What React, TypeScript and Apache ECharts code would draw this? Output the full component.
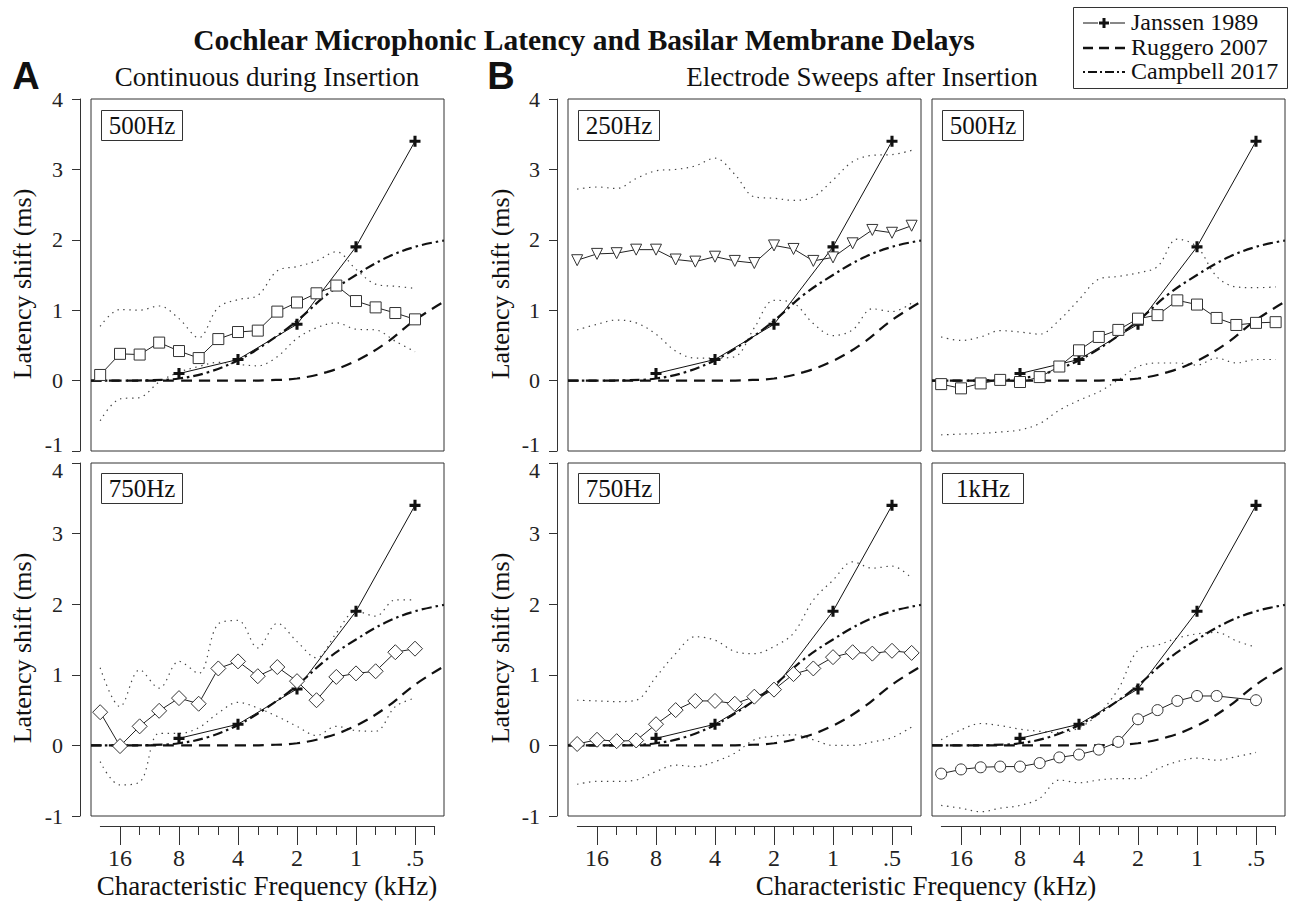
import React, { useEffect, useRef } from "react";
import * as echarts from "echarts";

// ---------- data (frequencies in kHz, latency shifts in ms) ----------
const FREQ_KHZ = [20.2, 16, 12.7, 10.1, 8, 6.35, 5.04, 4, 3.17, 2.52, 2, 1.59, 1.26, 1, 0.794, 0.63, 0.5, 0.397];
const X_MAJOR_KHZ = [16, 8, 4, 2, 1, 0.5];

const JANSSEN_KHZ = [8, 4, 2, 1, 0.5];
const JANSSEN_MS = [0.1, 0.3, 0.8, 1.9, 3.4];
const RUGGERO_KHZ = [22.5, 11.3, 8, 5.66, 4, 2.83, 2, 1.41, 1, 0.707, 0.5, 0.356];
const RUGGERO_MS = [0, 0, 0, 0, 0, 0.006, 0.03, 0.12, 0.28, 0.53, 0.86, 1.12];
const CAMPBELL_KHZ = [22.5, 16, 11.3, 8, 5.66, 4, 2.83, 2, 1.41, 1, 0.707, 0.5, 0.356];
const CAMPBELL_MS = [0, 0, 0.005, 0.03, 0.12, 0.29, 0.54, 0.85, 1.22, 1.5, 1.74, 1.9, 1.99];

// A: continuous during insertion, 500 Hz (squares)
const A500_MS = [0.08, 0.38, 0.37, 0.54, 0.42, 0.32, 0.59, 0.69, 0.71, 0.98, 1.11, 1.24, 1.35, 1.13, 1.04, 0.96, 0.87];
const A500_HI = [0.77, 1.01, 1.0, 1.06, 0.88, 0.61, 1.04, 1.15, 1.21, 1.56, 1.62, 1.7, 1.83, 1.58, 1.37, 1.34, 1.31];
const A500_LO = [-0.57, -0.26, -0.24, -0.02, 0.12, 0.2, 0.26, 0.23, 0.21, 0.34, 0.6, 0.75, 0.82, 0.73, 0.72, 0.56, 0.41];
// A: 750 Hz (diamonds)
const A750_MS = [0.47, -0.01, 0.27, 0.49, 0.67, 0.59, 1.09, 1.19, 0.98, 1.11, 0.91, 0.64, 0.97, 1.02, 1.05, 1.32, 1.37];
const A750_HI = [1.1, 0.55, 1.07, 0.81, 1.19, 1.02, 1.72, 1.77, 1.38, 1.73, 1.47, 1.24, 1.59, 1.9, 1.83, 2.06, 2.06];
const A750_LO = [-0.23, -0.56, -0.52, 0.17, 0.17, 0.25, 0.46, 0.61, 0.53, 0.41, 0.27, 0.14, 0.27, 0.21, 0.2, 0.55, 0.67];
// B: electrode sweeps, 250 Hz (down triangles)
const B250_MS = [1.71, 1.8, 1.81, 1.86, 1.86, 1.72, 1.69, 1.76, 1.7, 1.67, 1.92, 1.87, 1.7, 1.75, 1.95, 2.14, 2.1, 2.2];
const B250_HI = [2.72, 2.75, 2.73, 2.87, 2.98, 3.0, 3.05, 3.16, 2.93, 2.61, 2.59, 2.56, 2.61, 2.85, 3.11, 3.2, 3.21, 3.27];
const B250_LO = [0.72, 0.8, 0.86, 0.82, 0.66, 0.42, 0.32, 0.32, 0.34, 0.75, 1.14, 1.1, 0.81, 0.64, 0.72, 1.02, 0.98, 1.1];
// B: 500 Hz (squares)
const B500_MS = [-0.05, -0.11, -0.04, 0.01, -0.02, 0.05, 0.2, 0.43, 0.62, 0.72, 0.88, 0.93, 1.14, 1.08, 0.89, 0.79, 0.82, 0.83];
const B500_HI = [0.62, 0.57, 0.62, 0.71, 0.69, 0.66, 0.86, 1.15, 1.44, 1.48, 1.53, 1.62, 2.01, 1.9, 1.48, 1.33, 1.32, 1.33];
const B500_LO = [-0.77, -0.76, -0.75, -0.73, -0.7, -0.61, -0.42, -0.28, -0.16, 0.01, 0.2, 0.25, 0.25, 0.22, 0.32, 0.25, 0.3, 0.3];
// B: 750 Hz (diamonds)
const B750_MS = [0.02, 0.08, 0.06, 0.07, 0.3, 0.5, 0.63, 0.63, 0.59, 0.69, 0.79, 1.01, 1.09, 1.25, 1.32, 1.3, 1.34, 1.31];
const B750_HI = [0.64, 0.63, 0.62, 0.64, 0.97, 1.3, 1.54, 1.49, 1.33, 1.3, 1.4, 1.59, 2.06, 2.34, 2.6, 2.51, 2.54, 2.37];
const B750_LO = [-0.55, -0.51, -0.51, -0.49, -0.37, -0.28, -0.3, -0.23, -0.11, 0.08, 0.13, 0.15, 0.08, 0.0, 0.0, 0.05, 0.11, 0.26];
// B: 1 kHz (circles)
const B1K_MS = [-0.4, -0.34, -0.31, -0.3, -0.3, -0.25, -0.17, -0.13, -0.06, 0.05, 0.37, 0.5, 0.63, 0.7, 0.7, null, 0.64];
const B1K_HI = [0.08, 0.22, 0.31, 0.28, 0.23, 0.2, 0.18, 0.25, 0.45, 0.8, 1.35, 1.42, 1.52, 1.58, 1.6, 1.48, 1.39];
const B1K_LO = [-0.85, -0.89, -0.94, -0.89, -0.85, -0.75, -0.49, -0.53, -0.49, -0.47, -0.47, -0.33, -0.23, -0.18, -0.21, -0.16, -0.1];

// ---------- layout ----------
const SERIF = '"Liberation Serif", "Times New Roman", serif';
const SANS = '"Liberation Sans", Arial, sans-serif';
const INK = "#222";
const FRAME_W = 353;
const OCT_PX = 59;
const U_CENTER = 1.5;
const FRAME_HALF = FRAME_W / OCT_PX / 2;
const AXIS_U_MIN = -4 / 3;
const AXIS_U_MAX = 13 / 3;
const AXIS_W = (AXIS_U_MAX - AXIS_U_MIN) * OCT_PX;

const PANELS = [
  { left: 91, top: 99, height: 352, row: 0, label: "500Hz", symbol: "rect", size: 11, rotate: 0, vals: A500_MS, hi: A500_HI, lo: A500_LO, yAxis: true, xAxis: false },
  { left: 91, top: 463, height: 353, row: 1, label: "750Hz", symbol: "diamond", size: 15, rotate: 0, vals: A750_MS, hi: A750_HI, lo: A750_LO, yAxis: true, xAxis: true },
  { left: 568, top: 99, height: 352, row: 0, label: "250Hz", symbol: "triangle", size: 11, rotate: 180, vals: B250_MS, hi: B250_HI, lo: B250_LO, yAxis: true, xAxis: false },
  { left: 932, top: 99, height: 352, row: 0, label: "500Hz", symbol: "rect", size: 11, rotate: 0, vals: B500_MS, hi: B500_HI, lo: B500_LO, yAxis: false, xAxis: false },
  { left: 568, top: 463, height: 353, row: 1, label: "750Hz", symbol: "diamond", size: 15, rotate: 0, vals: B750_MS, hi: B750_HI, lo: B750_LO, yAxis: true, xAxis: true },
  { left: 932, top: 463, height: 353, row: 1, label: "1kHz", symbol: "circle", size: 11, rotate: 0, vals: B1K_MS, hi: B1K_HI, lo: B1K_LO, yAxis: false, xAxis: true },
];

const lg = (f: number) => Math.log2(f);
const pairs = (fs: number[], vs: (number | null)[]) =>
  vs.map((v, i) => (v == null ? null : [lg(fs[i]), v])).filter((d) => d !== null);

const PLUS_PATH = "path://M3.6,0H6.4V3.6H10V6.4H6.4V10H3.6V6.4H0V3.6H3.6Z";
const fmtKHz = (v: number) => {
  const f = Math.pow(2, v);
  return f < 0.99 ? "." + Math.round(f * 10) : String(Math.round(f));
};

const TICK_TXT = { fontFamily: SERIF, fontSize: 22, color: INK };

function buildOption() {
  const tickPanels = PANELS.map((p, i) => ({ p, i })).filter((o) => o.p.xAxis);
  const grid: any[] = PANELS.map((p) => ({
    left: p.left, top: p.top, width: FRAME_W, height: p.height,
    show: true, borderColor: "#333", borderWidth: 1, backgroundColor: "rgba(0,0,0,0)",
    containLabel: false, outerBoundsMode: "none",
  }));
  tickPanels.forEach(({ p }) => {
    grid.push({
      left: p.left + (FRAME_W - AXIS_W) / 2, top: p.top, width: AXIS_W, height: p.height,
      show: false, containLabel: false, outerBoundsMode: "none",
    });
  });

  const xAxis: any[] = PANELS.map((p, i) => ({
    gridIndex: i, type: "value", min: U_CENTER - FRAME_HALF, max: U_CENTER + FRAME_HALF,
    inverse: true, show: false, splitLine: { show: false },
  }));
  const yAxis: any[] = PANELS.map((p, i) => ({
    gridIndex: i, type: "value", min: -1, max: 4, interval: 1, show: p.yAxis, offset: 11,
    axisLine: { show: true, onZero: false, lineStyle: { color: "#333", width: 1 } },
    axisTick: { show: true, length: 8, lineStyle: { color: "#333", width: 1 } },
    axisLabel: {
      ...TICK_TXT, margin: 17,
      formatter: (v: number) => {
        if (p.row === 0 && v === -1) return "{lo|-1}";
        if (p.row === 1 && v === 4) return "{hi|4}";
        return "{n|" + v + "}";
      },
      rich: {
        n: { ...TICK_TXT },
        lo: { ...TICK_TXT, padding: [0, 0, 14, 0] },
        hi: { ...TICK_TXT, padding: [14, 0, 0, 0] },
      },
    },
    splitLine: { show: false },
  }));
  tickPanels.forEach((o, j) => {
    const gi = PANELS.length + j;
    yAxis.push({ gridIndex: gi, type: "value", min: 0, max: 1, show: false });
    xAxis.push({
      gridIndex: gi, type: "value", min: AXIS_U_MIN, max: AXIS_U_MAX, inverse: true,
      position: "bottom", offset: 10,
      axisLine: { show: true, onZero: false, lineStyle: { color: "#333", width: 1 } },
      axisTick: { show: true, length: 9, customValues: FREQ_KHZ.map(lg), lineStyle: { color: "#333", width: 1 } },
      axisLabel: { show: false },
      splitLine: { show: false },
    });
    xAxis.push({
      gridIndex: gi, type: "value", min: AXIS_U_MIN, max: AXIS_U_MAX, inverse: true,
      position: "bottom", offset: 10,
      axisLine: { show: false, onZero: false },
      axisTick: { show: true, length: 19, customValues: X_MAJOR_KHZ.map(lg), lineStyle: { color: "#333", width: 1 } },
      axisLabel: {
        show: true, customValues: X_MAJOR_KHZ.map(lg), formatter: fmtKHz, margin: 20,
        fontFamily: SERIF, fontSize: 24, color: INK,
      },
      splitLine: { show: false },
    });
  });

  const series: any[] = [];
  PANELS.forEach((p, i) => {
    const n = p.vals.length;
    const fs = FREQ_KHZ.slice(0, n);
    const base = { type: "line", xAxisIndex: i, yAxisIndex: i, silent: true, animation: false };
    series.push({ ...base, name: "upper", data: pairs(fs, p.hi), symbol: "none", smooth: 0.35, z: 2,
      lineStyle: { color: "#444", width: 1.2, type: [1.4, 4.6] } });
    series.push({ ...base, name: "lower", data: pairs(fs, p.lo), symbol: "none", smooth: 0.35, z: 2,
      lineStyle: { color: "#444", width: 1.2, type: [1.4, 4.6] } });
    series.push({ ...base, name: "Ruggero 2007", data: pairs(RUGGERO_KHZ, RUGGERO_MS), symbol: "none", smooth: 0.4, z: 3,
      lineStyle: { color: "#111", width: 2.2, type: [11, 7] } });
    series.push({ ...base, name: "Campbell 2017", data: pairs(CAMPBELL_KHZ, CAMPBELL_MS), symbol: "none", smooth: 0.4, z: 3,
      lineStyle: { color: "#111", width: 2.2, type: [10, 4, 2.5, 4] } });
    series.push({ ...base, name: "Janssen 1989", data: pairs(JANSSEN_KHZ, JANSSEN_MS), symbol: PLUS_PATH, symbolSize: 11,
      showAllSymbol: true, z: 4, itemStyle: { color: "#111" }, lineStyle: { color: "#111", width: 1 } });
    series.push({ ...base, name: p.label, data: pairs(fs, p.vals), symbol: p.symbol, symbolSize: p.size,
      symbolRotate: p.rotate, showAllSymbol: true, z: 5,
      itemStyle: { color: "#fff", borderColor: "#333", borderWidth: 1 },
      lineStyle: { color: INK, width: 1 } });
  });

  const text = (x: number, y: number, t: string, font: string, align = "center", extra: any = {}) => ({
    type: "text", x, y, silent: true, ...extra,
    style: { text: t, font, fill: "#111", align, verticalAlign: "middle", textAlign: align, textVerticalAlign: "middle" },
  });
  const plusPts = (cx: number, cy: number, s: number, t: number) => [
    [cx - t, cy - s], [cx + t, cy - s], [cx + t, cy - t], [cx + s, cy - t], [cx + s, cy + t], [cx + t, cy + t],
    [cx + t, cy + s], [cx - t, cy + s], [cx - t, cy + t], [cx - s, cy + t], [cx - s, cy - t], [cx - t, cy - t],
  ];

  const graphic: any[] = [
    text(584, 40, "Cochlear Microphonic Latency and Basilar Membrane Delays", `bold 29.5px ${SERIF}`),
    text(26, 76, "A", `bold 38px ${SANS}`),
    text(501, 76, "B", `bold 38px ${SANS}`),
    text(267, 77, "Continuous during Insertion", `27px ${SERIF}`),
    text(862, 77, "Electrode Sweeps after Insertion", `27px ${SERIF}`),
    text(22, 284, "Latency shift (ms)", `26px ${SERIF}`, "center", { rotation: Math.PI / 2 }),
    text(22, 648, "Latency shift (ms)", `26px ${SERIF}`, "center", { rotation: Math.PI / 2 }),
    text(500, 284, "Latency shift (ms)", `26px ${SERIF}`, "center", { rotation: Math.PI / 2 }),
    text(500, 648, "Latency shift (ms)", `26px ${SERIF}`, "center", { rotation: Math.PI / 2 }),
    text(267, 886, "Characteristic Frequency (kHz)", `27px ${SERIF}`),
    text(926, 886, "Characteristic Frequency (kHz)", `27px ${SERIF}`),
  ];
  PANELS.forEach((p) => {
    const dy = p.row === 0 ? 11.5 : 10.5;
    graphic.push({ type: "rect", silent: true, z: 10, shape: { x: p.left + 10.5, y: p.top + dy, width: 81, height: 30 },
      style: { fill: "#fff", stroke: "#333", lineWidth: 1 } });
    graphic.push({ ...text(p.left + 51, p.top + dy + 15, p.label, `25px ${SERIF}`), z: 11 });
  });
  // legend
  graphic.push({ type: "rect", silent: true, shape: { x: 1073.5, y: 7.5, width: 214, height: 81 }, style: { fill: "#fff", stroke: "#333", lineWidth: 1 } });
  graphic.push({ type: "line", silent: true, shape: { x1: 1083, y1: 23, x2: 1098, y2: 23 }, style: { stroke: "#111", lineWidth: 1 } });
  graphic.push({ type: "line", silent: true, shape: { x1: 1110, y1: 23, x2: 1125, y2: 23 }, style: { stroke: "#111", lineWidth: 1 } });
  graphic.push({ type: "polygon", silent: true, shape: { points: plusPts(1104, 23, 5, 1.5) }, style: { fill: "#111" } });
  graphic.push({ type: "line", silent: true, shape: { x1: 1083, y1: 48, x2: 1125, y2: 48 }, style: { stroke: "#111", lineWidth: 2.4, lineDash: [10, 6] } });
  graphic.push({ type: "line", silent: true, shape: { x1: 1083, y1: 72, x2: 1125, y2: 72 }, style: { stroke: "#111", lineWidth: 2, lineDash: [2, 3, 9, 3] } });
  graphic.push(text(1131, 22, "Janssen 1989", `24px ${SERIF}`, "left"));
  graphic.push(text(1131, 47, "Ruggero 2007", `24px ${SERIF}`, "left"));
  graphic.push(text(1131, 71, "Campbell 2017", `24px ${SERIF}`, "left"));

  return {
    animation: false,
    backgroundColor: "#fff",
    textStyle: { fontFamily: SERIF },
    grid, xAxis, yAxis, series, graphic,
  };
}

export default function App() {
  const ref = useRef<HTMLDivElement>(null);
  useEffect(() => {
    if (!ref.current) return;
    const chart = echarts.init(ref.current, undefined, { renderer: "svg" });
    chart.setOption(buildOption() as any);
    return () => chart.dispose();
  }, []);
  return (
    <div
      ref={ref}
      style={{ position: "absolute", left: 0, top: 0, width: 1291, height: 903, background: "#fff" }}
    />
  );
}
